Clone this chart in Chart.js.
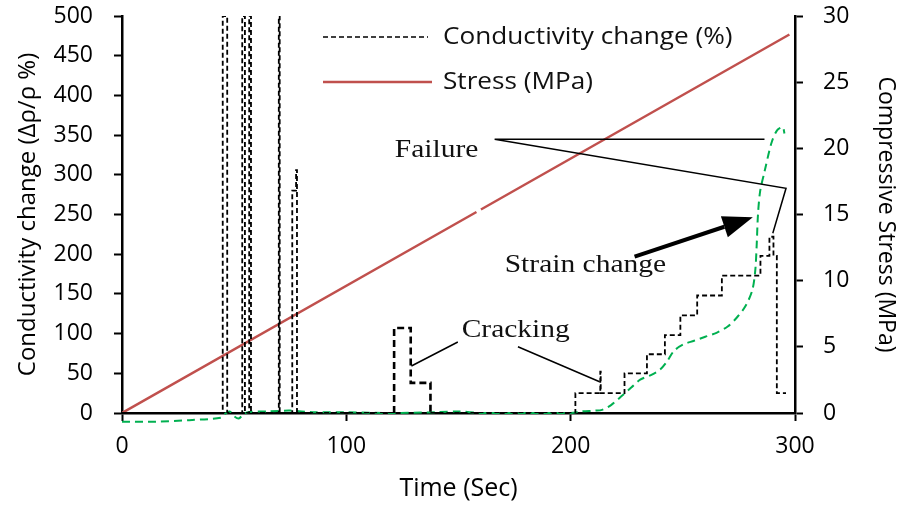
<!DOCTYPE html>
<html>
<head>
<meta charset="utf-8">
<script src="https://cdn.jsdelivr.net/npm/chart.js@4.4.1/dist/chart.umd.min.js"></script>
<style>
  body { margin: 0; background: #fff; }
  #wrap { width: 901px; height: 505px; }
</style>
</head>
<body>
<div id="wrap"><canvas id="chart"></canvas></div>
<script>
// conductivity change (%) - step / spike trace
const condTime = [0, 44.9, 44.9, 46.9, 46.9, 53.6, 53.6, 54.8, 54.8, 56.7, 56.7, 57.5, 57.5,
  69.9, 69.9, 70.3, 70.3, 75.9, 75.9, 77.6, 77.6, 78.0, 78.0,
  121.3, 121.3, 128.7, 128.7, 137.5, 137.5,
  202.1, 202.1, 213.2, 213.2, 213.4, 213.4, 224, 224, 234, 234, 242, 242, 248.9, 248.9,
  256.4, 256.4, 267.4, 267.4, 284.6, 284.6, 288.6, 288.6, 290.4, 290.4, 291.9, 291.9, 296]
const condValue = [0, 0, 500, 500, 0, 0, 500, 500, 0, 0, 500, 500, 0,
  0, 500, 500, 0, 0, 280, 280, 306, 306, 0,
  0, 107, 107, 38, 38, 0,
  0, 25, 25, 52, 52, 25, 25, 50, 50, 74, 74, 98, 98, 123,
  123, 148, 148, 173, 173, 198, 198, 222, 222, 198, 198, 25, 25]

// strain change (green dashed)
const strainTime = [0, 15, 30, 44, 46, 48, 50, 52, 54, 56, 65, 75, 85, 100, 120, 140, 150, 160,
  180, 200, 205, 211, 214, 218, 223, 227, 231, 236, 240, 243, 246, 250, 255, 260, 265, 270,
  274, 278, 281, 282.3, 282.9, 283.5, 284.5, 286.5, 289.5, 292, 294.5, 295.3]
const strainValue = [-11, -11, -9, -6, -1, 2, -4, -7, -2, 1, 2, 3, 1, 1, 0, 1, 2, 0,
  0, 0, 2, 3, 4, 10, 22, 32, 42, 48, 55, 65, 78, 86, 91, 96, 101, 109,
  120, 135, 155, 180, 210, 250, 280, 305, 340, 356, 360, 352]

// compressive stress (MPa), small break near 159 s
const stressTime = [0, 158, 159, 160, 297.5]
const stressValue = [0, 15.19, null, 15.38, 28.6]

const xTicks = [0, 100, 200, 300]

const black = '#000'
const red = '#C0504D'
const green = '#00B050'

function pts(xs, ys) {
    return xs.map((x, i) => ({ x: x, y: ys[i] }))
}

// draws text stretched a little sideways like the original picture
function wideText(ctx, text, x, y, font, sx) {
    ctx.save()
    ctx.font = font
    ctx.translate(x, y)
    ctx.scale(sx, 1)
    ctx.fillText(text, 0, 0)
    ctx.restore()
}

const legendPlugin = {
    id: 'sideLegend',
    afterDatasetsDraw(chart) {
        const ctx = chart.ctx
        const ca = chart.chartArea
        ctx.save()
        ctx.lineWidth = 1.5
        ctx.strokeStyle = black
        ctx.setLineDash([5, 3])
        ctx.beginPath()
        ctx.moveTo(ca.left + 201, ca.top + 21)
        ctx.lineTo(ca.left + 306, ca.top + 21)
        ctx.stroke()
        ctx.setLineDash([])
        ctx.lineWidth = 2.5
        ctx.strokeStyle = red
        ctx.beginPath()
        ctx.moveTo(ca.left + 201, ca.top + 66)
        ctx.lineTo(ca.left + 310, ca.top + 66)
        ctx.stroke()
        ctx.fillStyle = '#111'
        ctx.textBaseline = 'middle'
        wideText(ctx, 'Conductivity change (%)', ca.left + 321, ca.top + 21, '24px "Open Sans"', 1.09)
        wideText(ctx, 'Stress (MPa)', ca.left + 321, ca.top + 66, '24px "Open Sans"', 1.09)
        ctx.restore()
    }
}

const notePlugin = {
    id: 'notes',
    afterDatasetsDraw(chart) {
        const ctx = chart.ctx
        const x = chart.scales.x
        const y = chart.scales.y
        const px = (t) => x.getPixelForValue(t)
        const py = (v) => y.getPixelForValue(v)
        const serif = '25px "Liberation Serif"'
        ctx.save()
        ctx.strokeStyle = black
        ctx.fillStyle = '#111'
        ctx.lineWidth = 1.5

        // Failure
        ctx.textBaseline = 'middle'
        wideText(ctx, 'Failure', px(121.6), py(331), serif, 1.18)
        ctx.beginPath()
        ctx.moveTo(px(166.1), py(344.7))
        ctx.lineTo(px(286.4), py(344.7))
        ctx.moveTo(px(166.1), py(344.7))
        ctx.lineTo(px(296.0), py(283))
        ctx.lineTo(px(290.1), py(226.3))
        ctx.stroke()

        // Cracking
        wideText(ctx, 'Cracking', px(151.4), py(104.5), serif, 1.18)
        ctx.beginPath()
        ctx.moveTo(px(149.7), py(89.4))
        ctx.lineTo(px(129), py(59.2))
        ctx.moveTo(px(176.5), py(83.5))
        ctx.lineTo(px(212.9), py(39.4))
        ctx.stroke()

        // Strain change + arrow
        wideText(ctx, 'Strain change', px(170.6), py(186), serif, 1.18)
        const x0 = px(228.5), y0 = py(196.9), x1 = px(281.2), y1 = py(246.5)
        const ang = Math.atan2(y1 - y0, x1 - x0)
        const hl = 30, hw = 11
        const bx = x1 - hl * Math.cos(ang), by = y1 - hl * Math.sin(ang)
        ctx.lineWidth = 4
        ctx.beginPath()
        ctx.moveTo(x0, y0)
        ctx.lineTo(bx, by)
        ctx.stroke()
        ctx.fillStyle = black
        ctx.beginPath()
        ctx.moveTo(x1, y1)
        ctx.lineTo(bx + hw * Math.sin(ang), by - hw * Math.cos(ang))
        ctx.lineTo(bx - hw * Math.sin(ang), by + hw * Math.cos(ang))
        ctx.closePath()
        ctx.fill()
        ctx.restore()
    }
}

const axisGrid = {
    display: true,
    drawOnChartArea: false,
    drawTicks: true,
    tickLength: 8,
    tickColor: black,
    tickWidth: 2
}
const axisBorder = { display: true, color: black, width: 2.5 }
const tickFont = { family: 'Open Sans', size: 23 }

// fixed box sizes so the plot area lands where the original has it
function fixWidth(w) {
    return (s) => {
        s.width = w
        s.paddingTop = 0
        s.paddingBottom = 0
    }
}

// the crack bump near 120-138 s is drawn heavier in the original
const inBump = (c) => c.p0.parsed.x >= 120 && c.p1.parsed.x <= 139

const chart = new Chart(document.getElementById('chart'), {
    type: 'line',
    data: {
        datasets: [
            {
                label: 'Conductivity change (%)',
                data: pts(condTime, condValue),
                borderColor: black,
                borderWidth: 1.8,
                borderDash: [5, 3],
                pointRadius: 0,
                tension: 0,
                segment: {
                    borderWidth: (c) => inBump(c) ? 2.6 : undefined,
                    borderDash: (c) => inBump(c) ? [7, 4] : undefined
                },
                yAxisID: 'y'
            },
            {
                label: 'Strain change',
                data: pts(strainTime, strainValue),
                borderColor: green,
                borderWidth: 2,
                borderDash: [8, 5],
                pointRadius: 0,
                tension: 0.3,
                clip: false,
                yAxisID: 'y'
            },
            {
                label: 'Stress (MPa)',
                data: pts(stressTime, stressValue),
                borderColor: red,
                borderWidth: 2.5,
                pointRadius: 0,
                spanGaps: false,
                yAxisID: 'y2'
            }
        ]
    },
    options: {
        responsive: true,
        maintainAspectRatio: false,
        animation: false,
        layout: { padding: { top: 16, left: 0, right: 0, bottom: 0 } },
        plugins: {
            legend: { display: false },
            tooltip: { enabled: false }
        },
        scales: {
            x: {
                type: 'linear',
                min: 0,
                max: 300,
                afterBuildTicks: (s) => { s.ticks = xTicks.map((v) => ({ value: v })) },
                afterFit: (s) => { s.height = 92; s.paddingLeft = 0; s.paddingRight = 0 },
                grid: axisGrid,
                border: axisBorder,
                ticks: { color: black, font: tickFont, padding: 12, maxRotation: 0 },
                title: { display: true, text: 'Time (Sec)', color: black, font: { family: 'Open Sans', size: 25 }, padding: { top: 0, bottom: 1 } }
            },
            y: {
                position: 'left',
                min: 0,
                max: 500,
                afterFit: fixWidth(122),
                grid: axisGrid,
                border: axisBorder,
                ticks: { stepSize: 50, color: black, font: tickFont, padding: 21 },
                title: { display: true, text: 'Conductivity change (Δρ/ρ %)', color: black, font: { family: 'Open Sans', size: 24 }, padding: { top: 14, bottom: 0 } }
            },
            y2: {
                position: 'right',
                min: 0,
                max: 30,
                afterFit: fixWidth(106),
                grid: axisGrid,
                border: axisBorder,
                ticks: { stepSize: 5, color: black, font: tickFont, padding: 20 },
                title: { display: true, text: 'Compressive Stress (MPa)', color: black, font: { family: 'Open Sans', size: 23 }, padding: { top: 2, bottom: 0 } }
            }
        }
    },
    plugins: [legendPlugin, notePlugin]
})
</script>
</body>
</html>
